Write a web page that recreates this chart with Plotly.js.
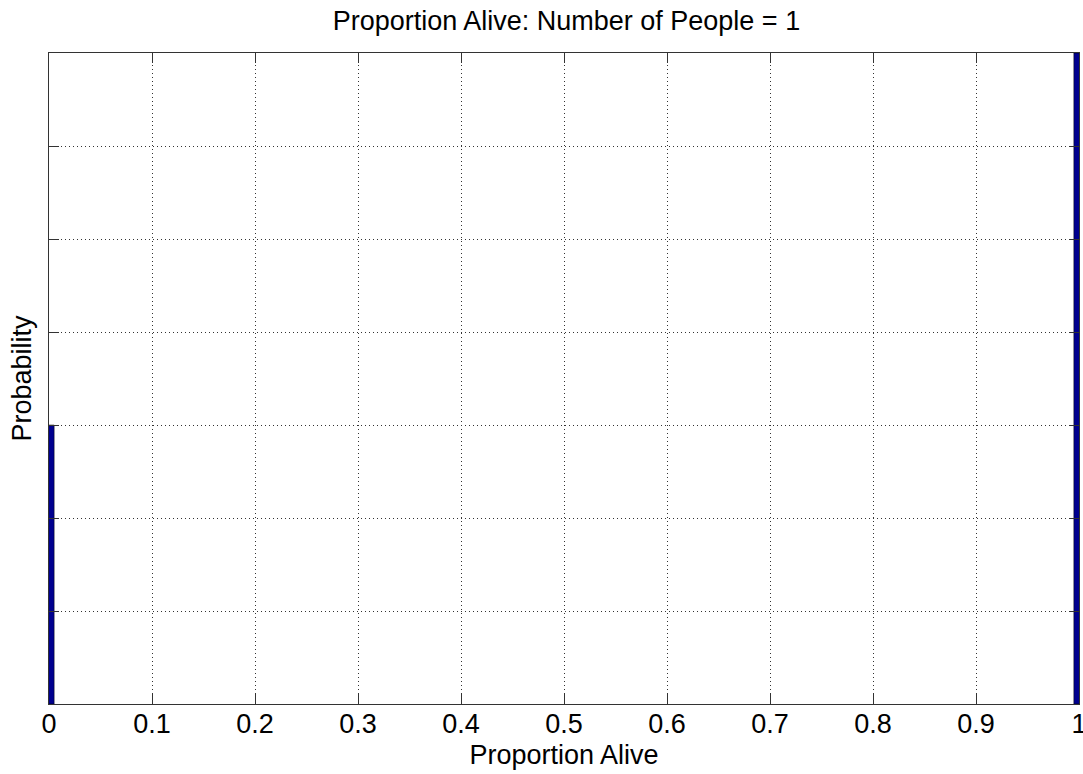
<!DOCTYPE html>
<html>
<head>
<meta charset="utf-8">
<script src="https://cdn.plot.ly/plotly-3.0.1.min.js"></script>
<style>html,body{margin:0;padding:0;background:#fff;}#chart{width:1083px;height:774px;}</style>
</head>
<body>
<div id="chart"></div>
<script>
// Data
const proportionAlive = [0, 1];
const probability = [0.3, 0.7];
const xTickVals = [0, 0.1, 0.2, 0.3, 0.4, 0.5, 0.6, 0.7, 0.8, 0.9, 1];
const xTickText = ['0', '0.1', '0.2', '0.3', '0.4', '0.5', '0.6', '0.7', '0.8', '0.9', '1'];
const yTickVals = [0, 0.1, 0.2, 0.3, 0.4, 0.5, 0.6, 0.7];

const font = 'Liberation Sans, Arial, Helvetica, sans-serif';
const fs = 27;

const trace = {
  type: 'bar',
  x: proportionAlive,
  y: probability,
  width: 0.01,
  marker: {color: '#00008f', line: {color: '#000000', width: 0.5}},
  hoverinfo: 'x+y'
};

const layout = {
  width: 1083, height: 774,
  margin: {l: 49, r: 4, t: 53, b: 70},
  paper_bgcolor: '#ffffff',
  plot_bgcolor: '#ffffff',
  showlegend: false,
  font: {family: font, size: fs, color: '#000'},
  title: {text: 'Proportion Alive: Number of People = 1', font: {family: font, size: fs, color: '#000'}, x: 0.523, xanchor: 'center', y: 0.973, yanchor: 'middle'},
  xaxis: {
    range: [0, 1],
    tickvals: xTickVals, ticktext: xTickText,
    ticks: 'inside', ticklen: 10, tickcolor: '#333', tickwidth: 1,
    showline: true, linecolor: '#333', linewidth: 1, mirror: 'ticks',
    showgrid: true, gridcolor: '#333', griddash: '1px,3px', gridwidth: 1,
    zeroline: false,
    ticklabeloverflow: 'allow',
    ticklabelstandoff: -4,
    tickfont: {family: font, size: fs, color: '#000'},
    title: {text: 'Proportion Alive', font: {family: font, size: fs, color: '#000'}, standoff: 6}
  },
  yaxis: {
    range: [0, 0.7],
    tickvals: yTickVals, showticklabels: false,
    ticks: 'inside', ticklen: 10, tickcolor: '#333', tickwidth: 1,
    showline: true, linecolor: '#333', linewidth: 1, mirror: 'ticks',
    showgrid: true, gridcolor: '#333', griddash: '1px,3px', gridwidth: 1,
    zeroline: false,
    title: {text: 'Probability', font: {family: font, size: fs, color: '#000'}, standoff: 8}
  },
  bargap: 0
};

Plotly.newPlot('chart', [trace], layout, {displayModeBar: false, staticPlot: true});
</script>
</body>
</html>
